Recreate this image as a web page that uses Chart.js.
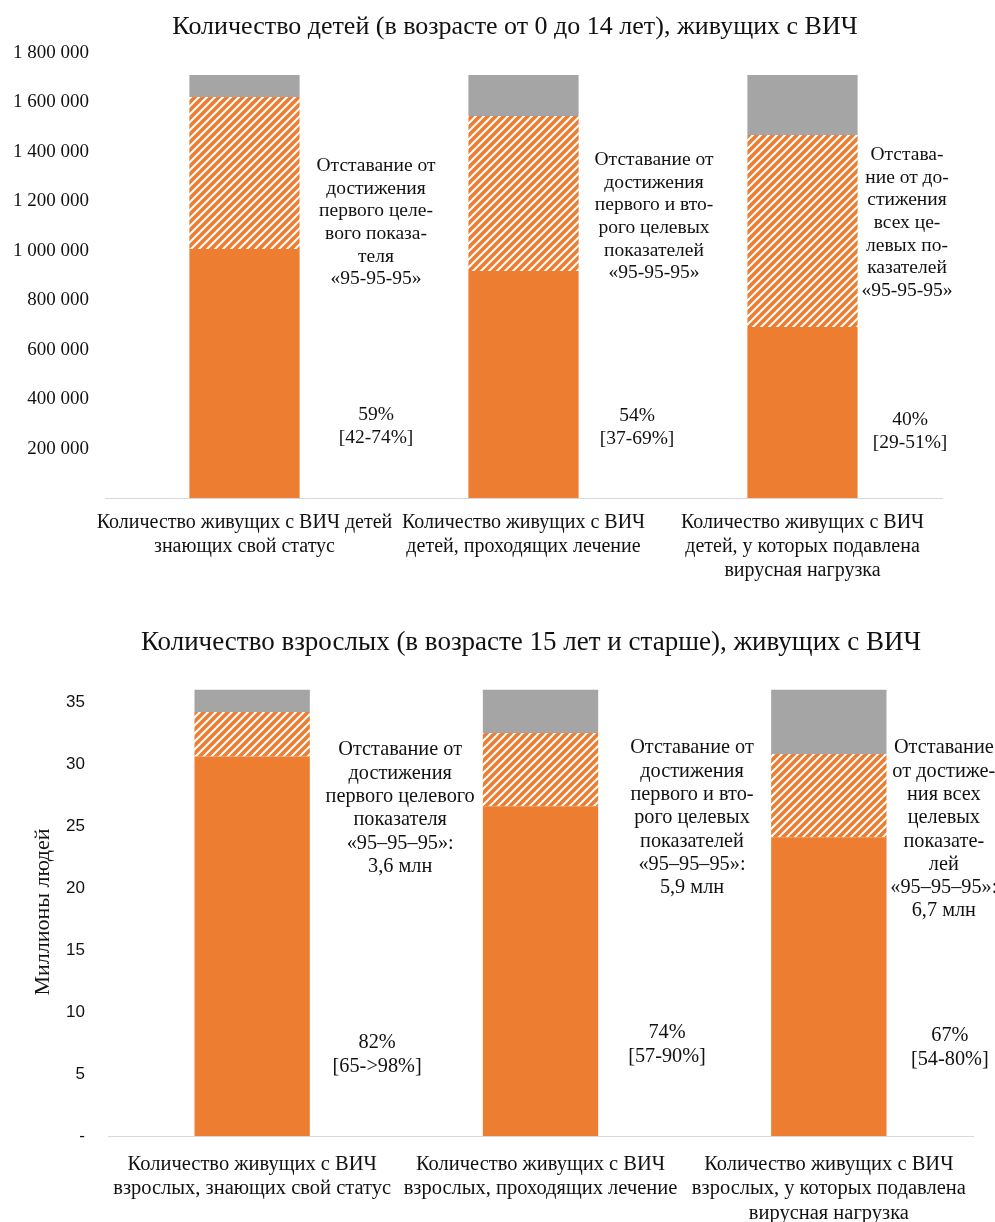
<!DOCTYPE html>
<html>
<head>
<meta charset="utf-8">
<script src="https://cdn.jsdelivr.net/npm/chart.js@4.4.0/dist/chart.umd.min.js"></script>
<style>
  html, body { margin: 0; padding: 0; background: #fff; }
  .box { position: absolute; left: 0; width: 995px; }
  #top { top: 0; height: 600px; }
  #bottom { top: 600px; height: 622px; }
</style>
</head>
<body>
<div class="box" id="top"><canvas id="childChart"></canvas></div>
<div class="box" id="bottom"><canvas id="adultChart"></canvas></div>
<script>
// --- data: children 0-14 ---
const childTitle = 'Количество детей (в возрасте от 0 до 14 лет), живущих с ВИЧ';
const childCategories = [
  ['Количество живущих с ВИЧ детей', 'знающих свой статус'],
  ['Количество живущих с ВИЧ', 'детей, проходящих лечение'],
  ['Количество живущих с ВИЧ', 'детей, у которых подавлена', 'вирусная нагрузка'],
];
const childAchieved = [1007000, 918000, 692000];
const childGap = [615000, 627000, 776000];
const childRest = [89000, 166000, 243000];
const childGapNotes = [
  ['Отставание от', 'достижения', 'первого целе-', 'вого показа-', 'теля', '«95-95-95»'],
  ['Отставание от', 'достижения', 'первого и вто-', 'рого целевых', 'показателей', '«95-95-95»'],
  ['Отстава-', 'ние от до-', 'стижения', 'всех це-', 'левых по-', 'казателей', '«95-95-95»'],
];
const childPctNotes = [['59%', '[42-74%]'], ['54%', '[37-69%]'], ['40%', '[29-51%]']];

// --- data: adults 15+ ---
const adultTitle = 'Количество взрослых (в возрасте 15 лет и старше), живущих с ВИЧ';
const adultAxisTitle = 'Миллионы людей';
const adultCategories = [
  ['Количество живущих с ВИЧ', 'взрослых, знающих свой статус'],
  ['Количество живущих с ВИЧ', 'взрослых, проходящих лечение'],
  ['Количество живущих с ВИЧ', 'взрослых, у которых подавлена', 'вирусная нагрузка'],
];
const adultAchieved = [30.6, 26.6, 24.1];
const adultGap = [3.6, 5.9, 6.7];
const adultRest = [1.8, 3.5, 5.2];
const adultGapNotes = [
  ['Отставание от', 'достижения', 'первого целевого', 'показателя', '«95–95–95»:', '3,6 млн'],
  ['Отставание от', 'достижения', 'первого и вто-', 'рого целевых', 'показателей', '«95–95–95»:', '5,9 млн'],
  ['Отставание', 'от достиже-', 'ния всех', 'целевых', 'показате-', 'лей', '«95–95–95»:', '6,7 млн'],
];
const adultPctNotes = [['82%', '[65->98%]'], ['74%', '[57-90%]'], ['67%', '[54-80%]']];

const ORANGE = '#ED7D31';
const GREY = '#A5A5A5';
const SERIF = '"Liberation Serif", "Times New Roman", serif';
const TEXT = '#111';

function makeHatch() {
  const size = 8;
  const c = document.createElement('canvas');
  c.width = size;
  c.height = size;
  const g = c.getContext('2d');
  g.fillStyle = ORANGE;
  g.fillRect(0, 0, size, size);
  g.strokeStyle = '#fff';
  g.lineWidth = 2;
  g.beginPath();
  g.moveTo(-2, size + 2); g.lineTo(size + 2, -2);
  g.moveTo(-2, 2); g.lineTo(2, -2);
  g.moveTo(size - 2, size + 2); g.lineTo(size + 2, size - 2);
  g.stroke();
  return g.createPattern(c, 'repeat');
}

function spaced(v) {
  return String(v).replace(/\B(?=(\d{3})+(?!\d))/g, ' ');
}

function drawLines(ctx, lines, x, y, lh) {
  lines.forEach((line, i) => ctx.fillText(line, x, y + i * lh));
}

// draws titles and the text blocks next to the bars
const notesPlugin = {
  id: 'notes',
  afterDraw(chart, args, opts) {
    const { ctx } = chart;
    const xs = chart.scales.x;
    ctx.save();
    ctx.fillStyle = TEXT;
    ctx.textAlign = 'center';
    ctx.textBaseline = 'middle';

    ctx.font = `${opts.titleSize}px ${SERIF}`;
    ctx.fillText(opts.title, opts.titleX, opts.titleY);

    ctx.font = `${opts.noteSize}px ${SERIF}`;
    opts.gapNotes.forEach((lines, i) => {
      const x = xs.getPixelForValue(i) + opts.gapDx[i];
      drawLines(ctx, lines, x, opts.gapY[i], opts.gapLh);
    });
    opts.pctNotes.forEach((lines, i) => {
      const x = xs.getPixelForValue(i) + opts.pctDx[i];
      drawLines(ctx, lines, x, opts.pctY[i], opts.pctLh);
    });

    if (opts.axisTitle) {
      ctx.translate(opts.axisTitleX, opts.axisTitleY);
      ctx.rotate(-Math.PI / 2);
      ctx.font = `22px ${SERIF}`;
      ctx.fillText(opts.axisTitle, 0, 0);
    }
    ctx.restore();
  },
};

function buildDatasets(achieved, gap, rest, hatch, barPct) {
  const common = { barPercentage: barPct, categoryPercentage: 1, borderWidth: 0 };
  return [
    { data: achieved, backgroundColor: ORANGE, ...common },
    { data: gap, backgroundColor: hatch, ...common },
    { data: rest, backgroundColor: GREY, ...common },
  ];
}

const hatch = makeHatch();
const noGrid = { display: false, drawTicks: false };

new Chart(document.getElementById('childChart'), {
  type: 'bar',
  data: {
    labels: childCategories,
    datasets: buildDatasets(childAchieved, childGap, childRest, hatch, 0.395),
  },
  options: {
    responsive: true,
    maintainAspectRatio: false,
    animation: false,
    layout: { padding: { top: 53, right: 53, left: 0, bottom: 0 } },
    plugins: {
      legend: { display: false },
      tooltip: { enabled: false },
      notes: {
        title: childTitle,
        titleSize: 26,
        titleX: 515,
        titleY: 27,
        noteSize: 19.5,
        gapNotes: childGapNotes,
        gapDx: [131.5, 130.5, 104.5],
        gapY: [166, 160, 155],
        gapLh: 22.6,
        pctNotes: childPctNotes,
        pctDx: [131.5, 113.5, 107.5],
        pctY: [415, 416, 420],
        pctLh: 22.5,
      },
    },
    scales: {
      x: {
        stacked: true,
        grid: noGrid,
        border: { color: '#D9D9D9', width: 1 },
        ticks: {
          color: TEXT,
          font: { family: SERIF, size: 20, lineHeight: 1.2 },
          padding: 13,
          maxRotation: 0,
          autoSkip: false,
        },
        afterFit: (scale) => { scale.height = 102; },
      },
      y: {
        stacked: true,
        min: 0,
        max: 1800000,
        grid: noGrid,
        border: { display: false },
        ticks: {
          stepSize: 200000,
          padding: 16,
          color: TEXT,
          font: { family: SERIF, size: 19 },
          callback: (v) => (v === 0 ? '' : spaced(v)),
        },
        afterFit: (scale) => { scale.width = 105; },
      },
    },
  },
  plugins: [notesPlugin],
});

new Chart(document.getElementById('adultChart'), {
  type: 'bar',
  data: {
    labels: adultCategories,
    datasets: buildDatasets(adultAchieved, adultGap, adultRest, hatch, 0.4),
  },
  options: {
    responsive: true,
    maintainAspectRatio: false,
    animation: false,
    layout: { padding: { top: 89.6, right: 22, left: 0, bottom: 0 } },
    plugins: {
      legend: { display: false },
      tooltip: { enabled: false },
      notes: {
        title: adultTitle,
        titleSize: 27,
        titleX: 531,
        titleY: 43,
        axisTitle: adultAxisTitle,
        axisTitleX: 43,
        axisTitleY: 312,
        noteSize: 20.3,
        gapNotes: adultGapNotes,
        gapDx: [148, 151.5, 115],
        gapY: [150, 148, 148],
        gapLh: 23.3,
        pctNotes: adultPctNotes,
        pctDx: [125, 126.5, 121],
        pctY: [443, 433, 436],
        pctLh: 24,
      },
    },
    scales: {
      x: {
        stacked: true,
        grid: noGrid,
        border: { color: '#D9D9D9', width: 1 },
        ticks: {
          color: TEXT,
          font: { family: SERIF, size: 20.5, lineHeight: 1.2 },
          padding: 16,
          maxRotation: 0,
          autoSkip: false,
        },
        afterFit: (scale) => { scale.height = 86; },
      },
      y: {
        stacked: true,
        min: 0,
        max: 36,
        grid: noGrid,
        border: { display: false },
        ticks: {
          stepSize: 5,
          includeBounds: false,
          padding: 23,
          color: TEXT,
          font: { family: '"Liberation Sans", Arial, sans-serif', size: 17 },
          callback: (v) => (v === 0 ? '-' : v),
        },
        afterFit: (scale) => { scale.width = 108; },
      },
    },
  },
  plugins: [notesPlugin],
});
</script>
</body>
</html>
